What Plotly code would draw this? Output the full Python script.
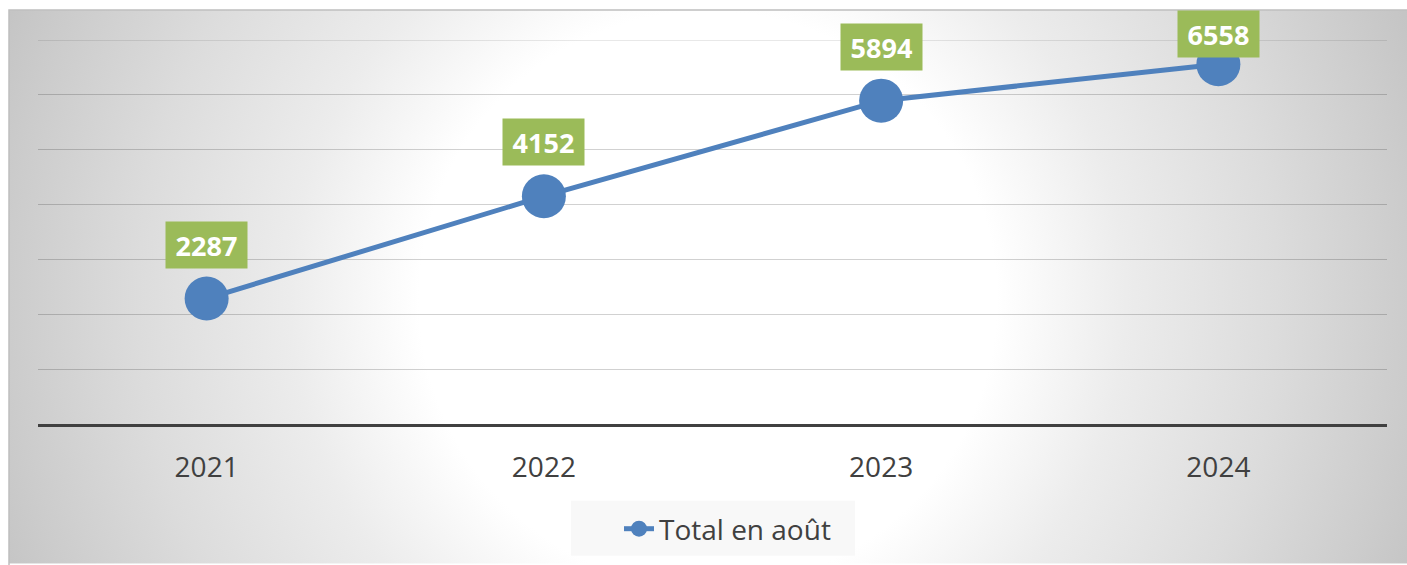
import plotly.graph_objects as go

years = ["2021", "2022", "2023", "2024"]
totals = [2287, 4152, 5894, 6558]
series_name = "Total en août"

W, H = 1407, 565
ML, MR, MT, MB = 38, 20, 40, 140
PW = W - ML - MR
PH = H - MT - MB
Y_MAX = 7000
GRID_COLOR = "rgba(0,0,0,0.18)"

def px_x(p):
    return (p - ML) / PW

def px_y(p):
    return (H - MB - p) / PH

svg = (
    "data:image/svg+xml;utf8,"
    "<svg xmlns='http://www.w3.org/2000/svg' width='1398' height='555' viewBox='0 0 1398 555' preserveAspectRatio='none'>"
    "<defs><radialGradient id='g' gradientUnits='userSpaceOnUse' cx='699' cy='290' r='760'>"
    "<stop offset='0' stop-color='%23ffffff'/>"
    "<stop offset='0.38' stop-color='%23ffffff'/>"
    "<stop offset='0.55' stop-color='%23ececec'/>"
    "<stop offset='0.75' stop-color='%23dcdcdc'/>"
    "<stop offset='0.92' stop-color='%23cccccc'/>"
    "<stop offset='1' stop-color='%23c4c4c4'/>"
    "</radialGradient></defs>"
    "<rect x='0' y='0' width='1398' height='555' fill='url(%23g)'/></svg>"
)

fig = go.Figure()
fig.add_trace(go.Scatter(
    x=years, y=totals, name=series_name, mode="lines+markers",
    line=dict(color="#4f81bd", width=5),
    marker=dict(color="#4f81bd", size=44),
))

LABEL_SHIFT = 54
LABEL_MIN_CENTER = 34  # px from top of figure: labels are kept inside the chart
for i, yv in enumerate(totals):
    point_px = MT + PH * (1 - yv / Y_MAX)
    shift = min(LABEL_SHIFT, point_px - LABEL_MIN_CENTER)
    fig.add_annotation(
        x=i, y=yv, xref="x", yref="y", text=str(yv), showarrow=False,
        yshift=shift, width=81, height=46, borderpad=0,
        bgcolor="#9bbb59",
        font=dict(family="Open Sans", size=27, color="white", weight="bold"),
    )

fig.update_layout(
    width=W, height=H, autosize=False,
    margin=dict(l=ML, r=MR, t=MT, b=MB),
    paper_bgcolor="white", plot_bgcolor="rgba(0,0,0,0)",
    font=dict(family="Open Sans", color="#404040"),
    showlegend=True,
    legend=dict(
        x=px_x(619), y=px_y(529), xanchor="left", yanchor="middle",
        bgcolor="rgba(0,0,0,0)", font=dict(size=28, color="#404040"),
        orientation="h",
    ),
    xaxis=dict(
        type="category", range=[-0.5, 3.5], showgrid=False,
        showline=True, linecolor="#404040", linewidth=3,
        ticks="", tickfont=dict(size=28, color="#404040"),
        ticklabelstandoff=16, zeroline=False,
    ),
    yaxis=dict(
        range=[0, Y_MAX], tick0=0, dtick=1000, showticklabels=False,
        gridcolor=GRID_COLOR, gridwidth=1, zeroline=False,
        showline=False, ticks="",
    ),
    images=[dict(
        source=svg, xref="paper", yref="paper",
        x=px_x(9), y=px_y(10), sizex=1398 / PW, sizey=555 / PH,
        xanchor="left", yanchor="top", sizing="stretch", layer="below",
    )],
    shapes=[
        dict(type="rect", xref="paper", yref="paper",
             x0=px_x(9), x1=px_x(1420), y0=px_y(10), y1=px_y(580),
             line=dict(color="#bfbfbf", width=1.5), fillcolor="rgba(0,0,0,0)", layer="below"),
        dict(type="rect", xref="paper", yref="paper",
             x0=px_x(571), x1=px_x(855), y0=px_y(502), y1=px_y(557),
             line=dict(width=0), fillcolor="#f8f8f8", layer="below"),
        # top gridline (plotly drops the grid line sitting on the plot edge)
        dict(type="line", xref="paper", yref="y", x0=0, x1=1, y0=Y_MAX, y1=Y_MAX,
             line=dict(color=GRID_COLOR, width=1), layer="below"),
    ],
)

fig.write_html(
    "out.html",
    config={"displayModeBar": False},
    post_script="document.body.style.margin='0';document.body.style.overflow='hidden';",
)
